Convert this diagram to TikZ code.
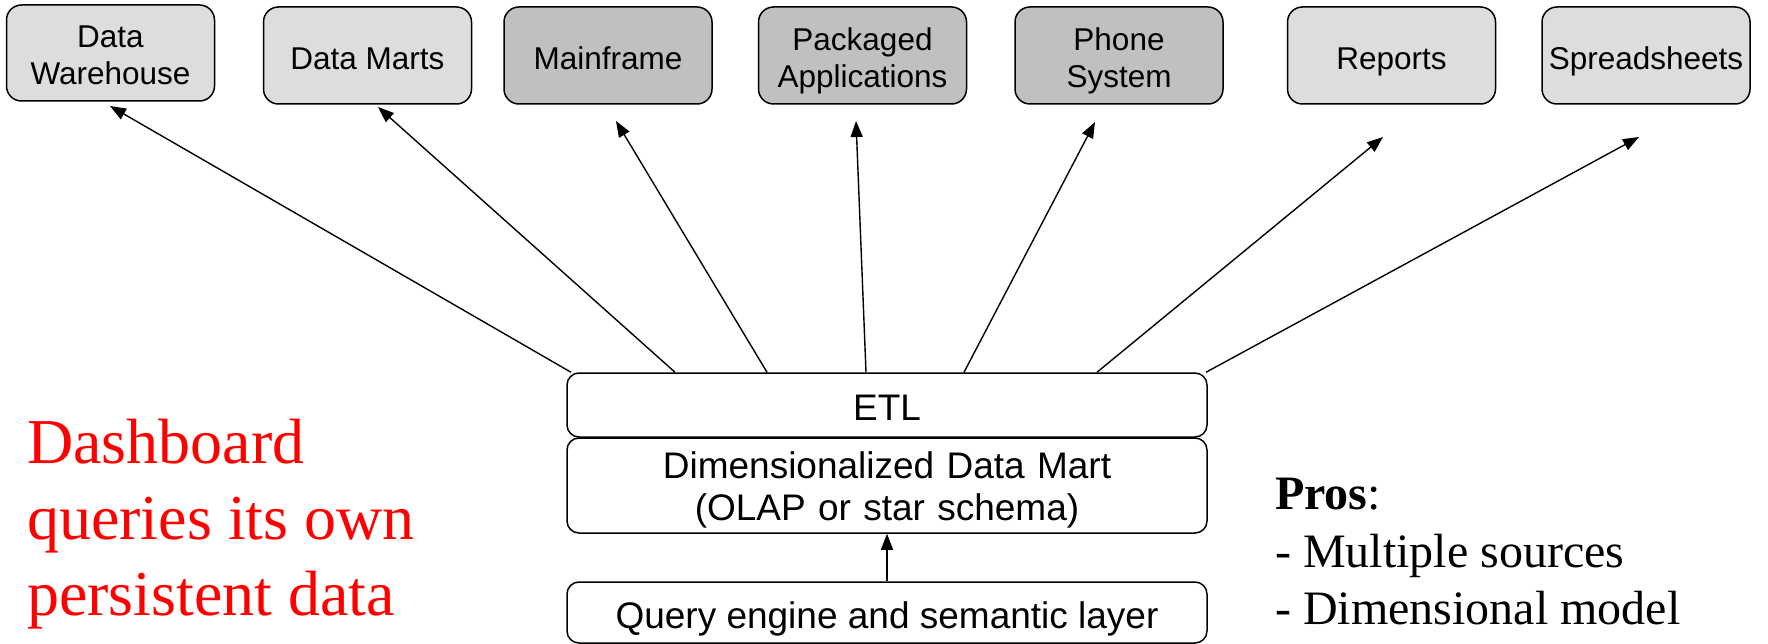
\documentclass[tikz,border=0pt]{standalone}
\usepackage{fontspec}
\setmainfont{Liberation Serif}
\newfontfamily\sansf{Liberation Sans}
\usetikzlibrary{arrows.meta,calc}
\definecolor{lightbox}{RGB}{221,221,221}
\definecolor{darkbox}{RGB}{192,192,192}
\begin{document}
\begin{tikzpicture}[x=1pt,y=-1pt,
  src/.style={draw=black,line width=1.5pt,rounded corners=15pt,minimum width=208pt,minimum height=97pt,inner sep=0pt,align=center,font=\sansf\fontsize{31.5}{37}\selectfont,text height=28pt,text depth=0pt},
  lightsrc/.style={src,fill=lightbox},
  darksrc/.style={src,fill=darkbox},
  twoline/.style={text width=208pt,text height=26.5pt,text depth=37pt},
  layer/.style={draw=black,line width=1.5pt,rounded corners=12pt,minimum width=640pt,inner sep=0pt,align=center,font=\sansf\fontsize{37}{42}\selectfont,text height=31.5pt,text depth=0pt},
  conn/.style={line width=1.4pt,-{Triangle[length=16pt,width=12pt]}},
  redtxt/.style={anchor=base west,inner sep=0pt,text=red,font=\fontsize{64}{76}\selectfont},
  prostxt/.style={anchor=base west,inner sep=0pt,font=\fontsize{48}{58}\selectfont}]
\useasboundingbox (0,0) rectangle (1768,644);

% sources / targets
\node[lightsrc,twoline,minimum height=96pt] (dw) at (110.5,53) {Data\\Warehouse};
\node[lightsrc] (dm) at (367.5,55.5) {Data Marts};
\node[darksrc] (mf) at (608,55.5) {Mainframe};
\node[darksrc,twoline] (pa) at (862.5,55.5) {Packaged\\Applications};
\node[darksrc,twoline] (ps) at (1119,55.5) {Phone\\System};
\node[lightsrc] (rp) at (1391.5,55.5) {Reports};
\node[lightsrc] (ss) at (1646,55.5) {Spreadsheets};

% stack
\node[layer,minimum height=64pt] (etl) at (887,405) {ETL};
\node[layer,minimum height=95pt,text width=640pt,text height=28pt,text depth=42pt] (ddm) at (887,485.5) {Dimensionalized Data Mart\\(OLAP or star schema)};
\node[layer,minimum height=61pt] (qe) at (887,612.5) {Query engine and semantic layer};

% arrow tips
\coordinate (t1) at (110,106);
\coordinate (t2) at (378,107);
\coordinate (t3) at (616,121);
\coordinate (t4) at (856,121);
\coordinate (t5) at (1095,122);
\coordinate (t6) at (1383,137);
\coordinate (t7) at (1639,137);

\draw[conn] ([xshift=-316pt]etl.north) -- (t1);
\draw[conn] ([xshift=-212pt]etl.north) -- (t2);
\draw[conn] ([xshift=-120pt]etl.north) -- (t3);
\draw[conn] ([xshift=-21pt]etl.north) -- (t4);
\draw[conn] ([xshift=77pt]etl.north) -- (t5);
\draw[conn] ([xshift=210pt]etl.north) -- (t6);
\draw[conn] ([xshift=319pt]etl.north) -- (t7);
\draw[conn] (qe.north) -- (ddm.south);

% red note
\node[redtxt] (r1) at (27,463) {Dashboard};
\node[redtxt] (r2) at (27,539) {queries its own};
\node[redtxt] (r3) at (27,615) {persistent data};

% pros
\node[prostxt] (p1) at (1275,509) {\textbf{Pros}:};
\node[prostxt] (p2) at (1275,567) {- Multiple sources};
\node[prostxt] (p3) at (1275,624) {- Dimensional model};
\end{tikzpicture}
\end{document}
